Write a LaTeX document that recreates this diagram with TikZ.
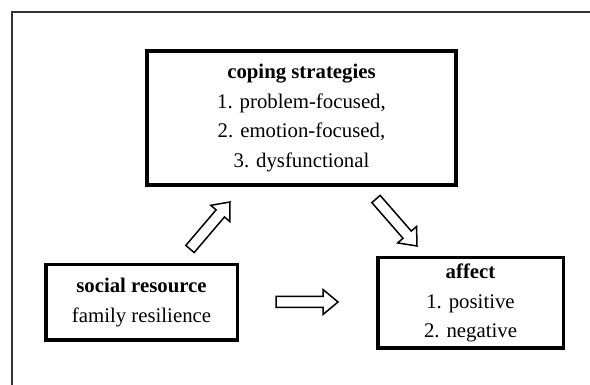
\documentclass[tikz,border=0pt]{standalone}
\usepackage{fontspec}
\setmainfont{Liberation Serif}
\usetikzlibrary{calc}
\tikzset{
  box/.style={draw=black, line width=#1, inner sep=0pt, align=center,
    font=\fontsize{20.8}{29.5}\selectfont},
  blockarr/.style={draw=black, line width=1.5pt, line join=miter, fill=white},
  frame/.style={draw=black!80, line width=1.2pt}
}
% block arrow from tail (#1) to tip (#2), head base coordinate name #3
\newcommand\mkblockarrow[3]{%
  \coordinate (#3) at ($(#2)!15pt!(#1)$);
  \draw[blockarr] ($(#1)!5.5pt!90:(#2)$) -- ($(#3)!5.5pt!-90:(#1)$)
    -- ($(#3)!12.5pt!-90:(#1)$) -- (#2) -- ($(#3)!12.5pt!90:(#1)$)
    -- ($(#3)!5.5pt!90:(#1)$) -- ($(#1)!5.5pt!-90:(#2)$) -- cycle;}
\begin{document}
\begin{tikzpicture}[x=1pt,y=-1pt]
\useasboundingbox (0,0) rectangle (590,385);
% partial outer frame
\coordinate (fr1) at (12,385.5);
\coordinate (fr2) at (12,12);
\coordinate (fr3) at (590.5,12);
\draw[frame] (fr1) -- (fr2) -- (fr3);
% boxes
\node[box=4pt, minimum width=309pt, minimum height=134pt] (cope) at (301.5,118)
  {\textbf{coping strategies}\\1. problem-focused,\\2. emotion-focused,\\3. dysfunctional};
\node[box=3.5pt, minimum width=191.5pt, minimum height=75.5pt] (soc) at (141.5,302.5)
  {\textbf{social resource}\\family resilience};
\node[box=3.5pt, minimum width=185.5pt, minimum height=90.5pt] (aff) at (470.5,303)
  {\textbf{affect}\\1. positive\\2. negative};
% block arrows
\coordinate (a1t) at (190,249);
\coordinate (a1h) at (230,202);
\coordinate (a2t) at (376,199);
\coordinate (a2h) at (417,246);
\coordinate (a3t) at (276,302);
\coordinate (a3h) at (338,302);
\mkblockarrow{a1t}{a1h}{a1b}
\mkblockarrow{a2t}{a2h}{a2b}
\mkblockarrow{a3t}{a3h}{a3b}
\end{tikzpicture}
\end{document}
